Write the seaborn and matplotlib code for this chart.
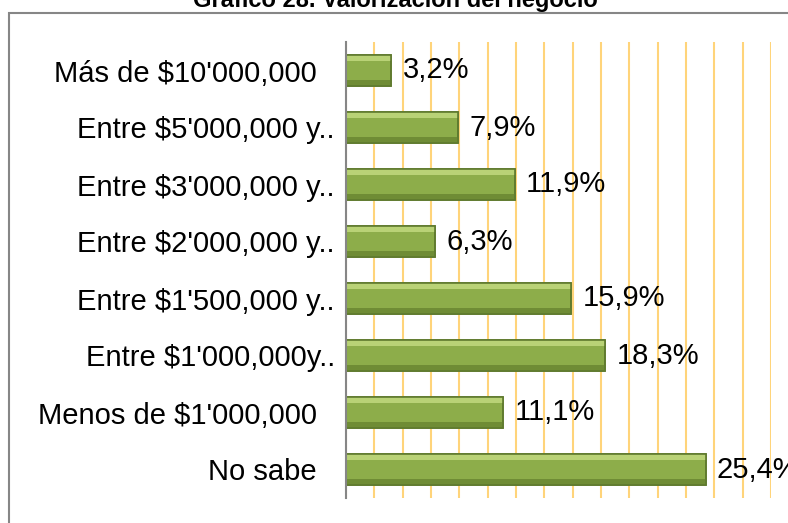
import matplotlib
matplotlib.use('Agg')
import matplotlib.pyplot as plt
import seaborn as sns
import pandas as pd
from matplotlib.patches import Rectangle
from matplotlib.transforms import ScaledTranslation

# ==========================================================
# DATOS
# ==========================================================
categorias = [
    "Más de $10'000,000",
    "Entre $5'000,000 y..",
    "Entre $3'000,000 y..",
    "Entre $2'000,000 y..",
    "Entre $1'500,000 y..",
    "Entre $1'000,000y..",
    "Menos de $1'000,000",
    "No sabe",
]
porcentajes = [3.2, 7.9, 11.9, 6.3, 15.9, 18.3, 11.1, 25.4]
titulo = "Gráfico 28. Valorización del negocio"

etiquetas = [f"{v:.1f}".replace('.', ',') + '%' for v in porcentajes]
df = pd.DataFrame({'categoria': categorias, 'porcentaje': porcentajes})

# ==========================================================
# ESTILO
# ==========================================================
sns.set_theme(style='white')
plt.rcParams['font.family'] = ['Liberation Sans', 'DejaVu Sans']

W, H = 788, 523
fig = plt.figure(figsize=(W / 100, H / 100), dpi=100)
ax = fig.add_axes([346 / W, 1 - 498 / H, 425 / W, 456 / H])

# ==========================================================
# GRÁFICO DE BARRAS
# ==========================================================
sns.barplot(data=df, x='porcentaje', y='categoria', orient='h',
            color='#8DAD4A', saturation=1, edgecolor='#5F7A2E',
            linewidth=1.2, width=0.53, ax=ax)

# efecto bisel: franja clara arriba y oscura abajo, a partir de cada barra
for p in list(ax.containers[0]):
    x0, y0, w, h = p.get_x(), p.get_y(), p.get_width(), p.get_height()
    ax.add_patch(Rectangle((x0, y0), w, h * 0.18, facecolor='#B9D276',
                           edgecolor='none', zorder=p.get_zorder() + 0.1))
    ax.add_patch(Rectangle((x0, y0 + h * 0.82), w, h * 0.18,
                           facecolor='#6F8C35', edgecolor='none',
                           zorder=p.get_zorder() + 0.1))
    ax.add_patch(Rectangle((x0, y0), w, h, facecolor='none',
                           edgecolor='#5F7A2E', linewidth=1.2,
                           zorder=p.get_zorder() + 0.2))

ax.set_xlim(0, 30)
ax.set_xticks(range(0, 31, 2))
ax.xaxis.grid(True, color='#FFD47A', linewidth=1.5)
ax.yaxis.grid(False)
ax.set_axisbelow(True)
ax.set_xticklabels([])
ax.tick_params(axis='both', length=0)
ax.tick_params(axis='y', labelsize=21, pad=8, labelcolor='black')
ax.set_xlabel('')
ax.set_ylabel('')

for lado in ['top', 'right', 'bottom']:
    ax.spines[lado].set_visible(False)
ax.spines['left'].set_color('#868686')
ax.spines['left'].set_linewidth(1.5)

# etiquetas sin ".." quedan más a la izquierda
for lab in ax.get_yticklabels():
    if not lab.get_text().endswith('..'):
        lab.set_transform(lab.get_transform() +
                          ScaledTranslation(-0.18, 0, fig.dpi_scale_trans))

ax.bar_label(ax.containers[0], labels=etiquetas, padding=8, fontsize=21,
             color='black', clip_on=False)

# ==========================================================
# MARCO Y TÍTULO
# ==========================================================
fig.add_artist(Rectangle((9 / W, -0.1), 1.2, 1 - 13 / H + 0.1,
                         transform=fig.transFigure, fill=False,
                         edgecolor='#868686', linewidth=1.5))
fig.text(395 / W, 1 - 6.5 / H, titulo, ha='center', va='baseline',
         fontsize=17, fontweight='bold', color='black')

fig.savefig('out.png', dpi=100)
